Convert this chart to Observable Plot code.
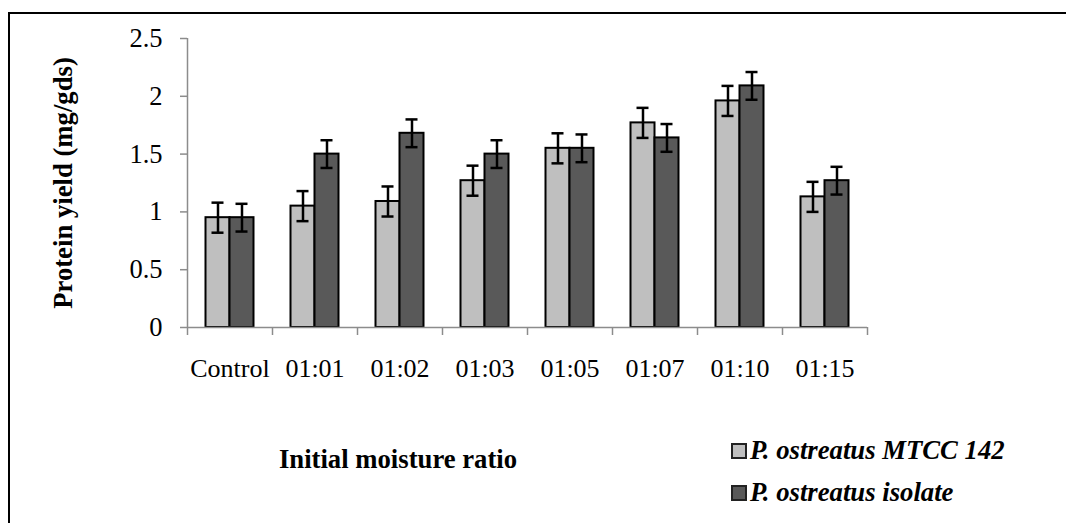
<!DOCTYPE html>
<html>
<head>
<meta charset="utf-8">
<script src="https://cdn.jsdelivr.net/npm/d3@7"></script>
<script src="https://cdn.jsdelivr.net/npm/@observablehq/plot@0.6"></script>
<style>
  html, body { margin: 0; padding: 0; background: #fff; overflow: hidden; }
  body { width: 1066px; height: 523px; position: relative; font-family: "Liberation Serif", "Times New Roman", serif; }
  #chart { position: absolute; left: 0; top: 0; }
  #border { position: absolute; left: 8px; top: 12px; width: 2000px; height: 2000px; border: 2.5px solid #000; box-sizing: border-box; z-index: 5; }
  .title { position: absolute; font-weight: bold; font-size: 26.7px; color: #000; white-space: nowrap; z-index: 6; }
  #ytitle { left: 63px; top: 183px; transform: translate(-50%, -50%) rotate(-90deg); }
  #xtitle { left: 398px; top: 459px; transform: translate(-50%, -50%); }
  .legend { position: absolute; left: 731px; z-index: 6; font-weight: bold; font-style: italic; font-size: 26.7px; white-space: nowrap; display: flex; align-items: center; }
  .sw { width: 12px; height: 12px; border: 2px solid #222; margin-right: 3px; }
</style>
</head>
<body>
<div id="chart"></div>
<div id="border"></div>
<div class="title" id="ytitle">Protein yield (mg/gds)</div>
<div class="title" id="xtitle">Initial moisture ratio</div>
<div id="legend"></div>
<script>
const categories = ["Control", "01:01", "01:02", "01:03", "01:05", "01:07", "01:10", "01:15"];
const seriesNames = ["P. ostreatus MTCC 142", "P. ostreatus isolate"];
const mtccValues = [0.95, 1.05, 1.09, 1.27, 1.55, 1.77, 1.96, 1.13];
const isolateValues = [0.95, 1.50, 1.68, 1.50, 1.55, 1.64, 2.09, 1.27];
const mtccErrors = [0.13, 0.13, 0.13, 0.13, 0.13, 0.13, 0.13, 0.13];
const isolateErrors = [0.12, 0.12, 0.12, 0.12, 0.12, 0.12, 0.12, 0.12];
const yTicks = [0, 0.5, 1, 1.5, 2, 2.5];
const colors = ["#bfbfbf", "#595959"];

const mtcc = categories.map((c, i) => ({cat: c, v: mtccValues[i], e: mtccErrors[i]}));
const isolate = categories.map((c, i) => ({cat: c, v: isolateValues[i], e: isolateErrors[i]}));

const font = "Liberation Serif";
const axisGray = "#8c8c8c";

function seriesMarks(data, fill, barInL, barInR, dx, capInL, capInR) {
  return [
    Plot.barY(data, {x: "cat", y: "v", fill, stroke: "#000", strokeWidth: 2, insetLeft: barInL, insetRight: barInR}),
    Plot.ruleX(data, {x: "cat", y1: d => d.v - d.e, y2: d => d.v + d.e, dx, stroke: "#000", strokeWidth: 2.5}),
    Plot.tickY(data, {x: "cat", y: d => d.v + d.e, insetLeft: capInL, insetRight: capInR, stroke: "#000", strokeWidth: 2.5}),
    Plot.tickY(data, {x: "cat", y: d => d.v - d.e, insetLeft: capInL, insetRight: capInR, stroke: "#000", strokeWidth: 2.5})
  ];
}

const chart = Plot.plot({
  width: 1066,
  height: 523,
  marginLeft: 187,
  marginRight: 199,
  marginTop: 38,
  marginBottom: 196,
  style: {background: "transparent", fontFamily: font, fontSize: "26px", color: "#000"},
  x: {type: "band", domain: categories, padding: 0, label: null},
  y: {domain: [0, 2.5], label: null},
  marks: [
    Plot.ruleX([categories[0]], {x: d => d, dx: -42.5, y1: 0, y2: 2.5, stroke: axisGray, strokeWidth: 1.5}),
    Plot.axisY({ticks: yTicks, tickSize: 7, tickPadding: 18, stroke: axisGray, strokeWidth: 1.5, fill: "#000", fontSize: 26.5, fontFamily: font, label: null, tickFormat: d => String(d)}),
    Plot.axisX({ticks: categories, tickSize: 8, dx: -42.5, stroke: axisGray, strokeWidth: 1.5, tickFormat: () => "", label: null}),
    Plot.axisX({ticks: [categories[categories.length - 1]], tickSize: 8, dx: 42.5, stroke: axisGray, strokeWidth: 1.5, tickFormat: () => "", label: null}),
    Plot.axisX({ticks: categories, tickSize: 0, tickPadding: 31, fill: "#000", fontSize: 26, fontFamily: font, label: null}),
    ...seriesMarks(mtcc, colors[0], 18.5, 42.5, -12, 24.5, 48.5),
    ...seriesMarks(isolate, colors[1], 42.5, 18.5, 12, 48.5, 24.5),
    Plot.ruleY([0], {stroke: axisGray, strokeWidth: 1.5})
  ]
});
document.getElementById("chart").appendChild(chart);

const legend = document.getElementById("legend");
seriesNames.forEach((name, i) => {
  const row = document.createElement("div");
  row.className = "legend";
  row.style.top = (i === 0 ? 435 : 477) + "px";
  const sw = document.createElement("span");
  sw.className = "sw";
  sw.style.background = colors[i];
  const t = document.createElement("span");
  t.textContent = name;
  row.appendChild(sw);
  row.appendChild(t);
  legend.appendChild(row);
});
</script>
</body>
</html>
